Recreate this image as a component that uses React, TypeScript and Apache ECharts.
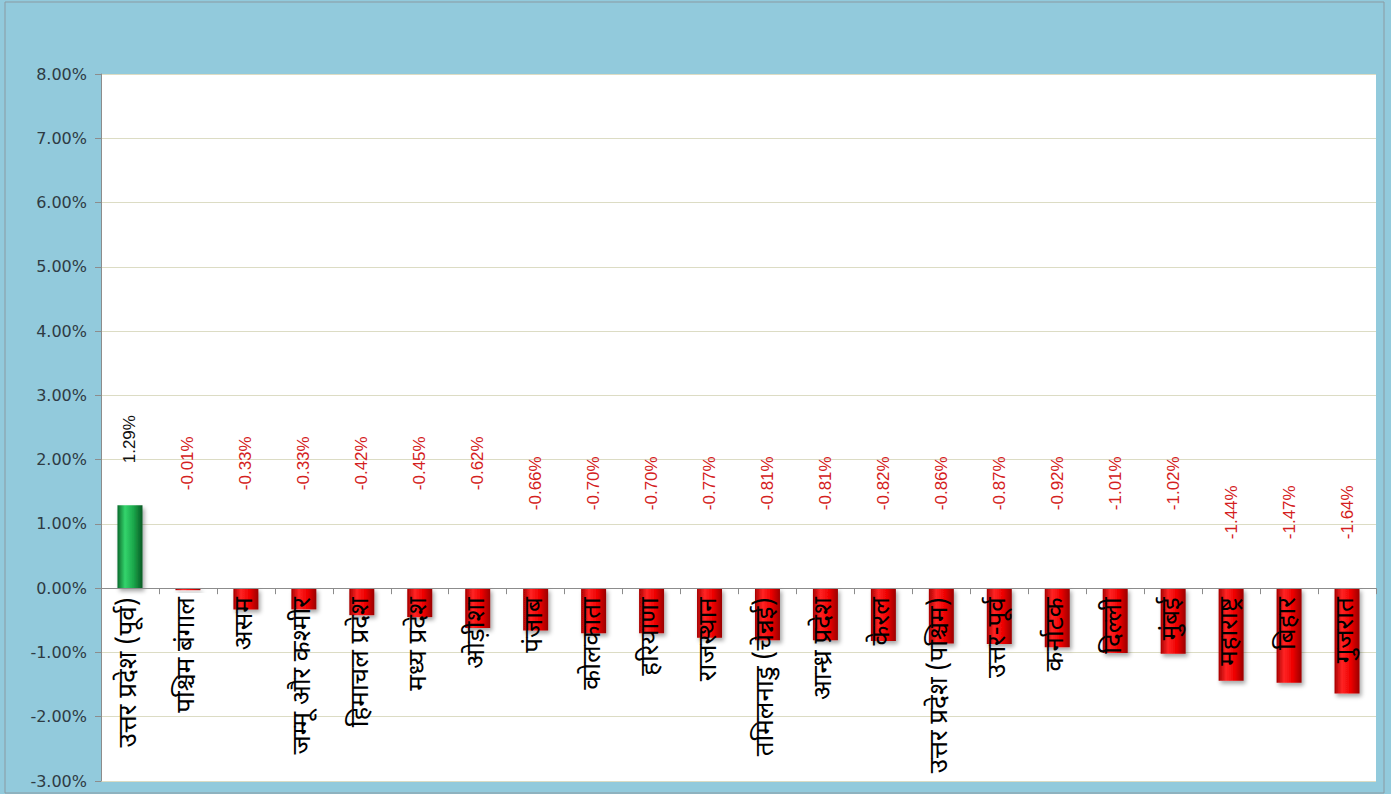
import React, { useEffect, useRef } from 'react';
import * as echarts from 'echarts';

const categories = [
  'उत्तर प्रदेश (पूर्व)',
  'पश्चिम बंगाल',
  'असम',
  'जम्मू और कश्मीर',
  'हिमाचल प्रदेश',
  'मध्य प्रदेश',
  'ओड़ीशा',
  'पंजाब',
  'कोलकाता',
  'हरियाणा',
  'राजस्थान',
  'तमिलनाडु (चेन्नई)',
  'आन्ध्र प्रदेश',
  'केरल',
  'उत्तर प्रदेश (पश्चिम)',
  'उत्तर-पूर्व',
  'कर्नाटक',
  'दिल्ली',
  'मुंबई',
  'महाराष्ट्र',
  'बिहार',
  'गुजरात',
];

const values = [
  1.29, -0.01, -0.33, -0.33, -0.42, -0.45, -0.62, -0.66, -0.7, -0.7, -0.77,
  -0.81, -0.81, -0.82, -0.86, -0.87, -0.92, -1.01, -1.02, -1.44, -1.47, -1.64,
];

const yMin = -3;
const yMax = 8;
const yInterval = 1;

const W = 1391;
const H = 794;
const gridTop = 74;
const gridBottom = 13;

export default function App() {
  const ref = useRef<HTMLDivElement>(null);

  useEffect(() => {
    const chart = echarts.init(ref.current!, null, { renderer: 'svg' });

    const greenGrad = new echarts.graphic.LinearGradient(1, 0, 0, 0, [
      { offset: 0, color: '#0a5a24' },
      { offset: 0.35, color: '#1aa64a' },
      { offset: 0.7, color: '#34d46c' },
      { offset: 1, color: '#0b6b2c' },
    ]);
    const redGrad = new echarts.graphic.LinearGradient(1, 0, 0, 0, [
      { offset: 0, color: '#9a0000' },
      { offset: 0.35, color: '#ee0000' },
      { offset: 0.7, color: '#ff2424' },
      { offset: 1, color: '#a80000' },
    ]);

    const labelDistance = (v: number) => {
      if (v >= 0) return 42;
      const a = Math.abs(v);
      if (a < 0.65) return 98;
      if (a < 1.1) return 78;
      return 49;
    };

    const data = values.map((v) => ({
      value: v,
      itemStyle: { color: v >= 0 ? greenGrad : redGrad },
      label: {
        distance: labelDistance(v),
        color: v >= 0 ? '#111111' : '#d42020',
      },
    }));

    // distance from the bottom of the plot to the zero line, so the category axis sits on zero
    const plotH = H - gridTop - gridBottom;
    const zeroFromBottom = (-yMin / (yMax - yMin)) * plotH;

    chart.setOption({
      animation: false,
      backgroundColor: '#92cadc',
      grid: {
        left: 101,
        right: 15,
        top: gridTop,
        bottom: gridBottom,
        show: true,
        backgroundColor: '#ffffff',
        borderWidth: 0,
        containLabel: false,
        outerBoundsMode: 'none',
      },
      graphic: [
        {
          type: 'rect',
          shape: { x: 5, y: 2, width: 1379, height: 791 },
          style: { fill: 'none', stroke: '#8a9aa2', lineWidth: 1 },
          silent: true,
        },
      ],
      xAxis: {
        type: 'category',
        data: categories,
        z: 5,
        offset: -zeroFromBottom,
        axisLine: { onZero: false, lineStyle: { color: '#8c8c8c', width: 1 } },
        axisTick: { show: true, alignWithLabel: false, length: 6, lineStyle: { color: '#8c8c8c' } },
        axisLabel: {
          interval: 0,
          rotate: 90,
          margin: 9,
          color: '#000000',
          fontSize: 26,
          fontWeight: 'normal',
          fontFamily: "'Noto Sans Devanagari', 'Noto Sans', 'DejaVu Sans', sans-serif",
        },
        splitLine: { show: false },
      },
      yAxis: {
        type: 'value',
        min: yMin,
        max: yMax,
        interval: yInterval,
        axisLine: { show: true, lineStyle: { color: '#8c8c8c' } },
        axisTick: { show: true, length: 6, lineStyle: { color: '#8c8c8c' } },
        axisLabel: {
          formatter: (v: number) => v.toFixed(2) + '%',
          color: '#2e3b44',
          fontSize: 16,
          fontFamily: "'DejaVu Sans', sans-serif",
          margin: 14,
        },
        splitLine: { show: true, lineStyle: { color: '#dcdcc4', width: 1 } },
      },
      series: [
        {
          type: 'bar',
          data,
          barWidth: 25,
          barMinHeight: 2,
          itemStyle: {
            shadowBlur: 4,
            shadowOffsetX: 2,
            shadowOffsetY: 3,
            shadowColor: 'rgba(0,0,0,0.35)',
          },
          label: {
            show: true,
            position: 'top',
            rotate: 90,
            align: 'left',
            verticalAlign: 'middle',
            fontSize: 17,
            fontFamily: "'Liberation Sans', Arial, sans-serif",
            formatter: (p: any) => p.value.toFixed(2) + '%',
          },
        },
      ],
    });

    return () => chart.dispose();
  }, []);

  return (
    <div
      ref={ref}
      style={{ position: 'absolute', left: 0, top: 0, width: W, height: H }}
    />
  );
}
